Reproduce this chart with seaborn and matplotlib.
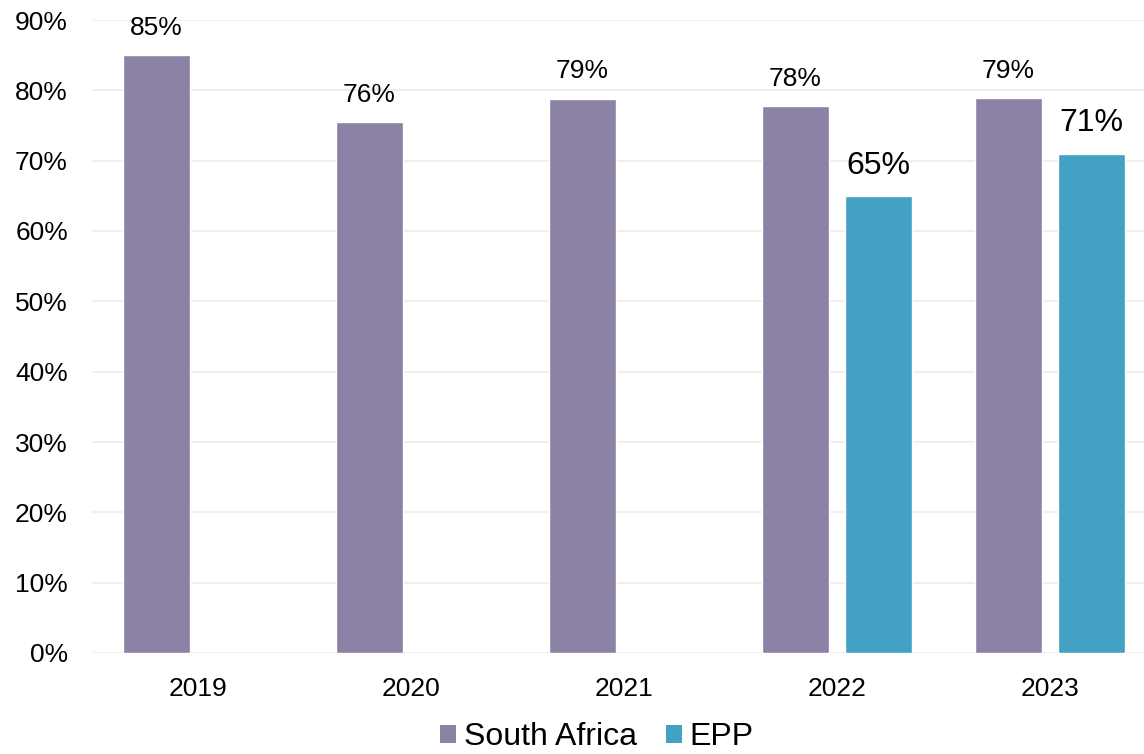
import numpy as np
import pandas as pd
import matplotlib
matplotlib.use("Agg")
import matplotlib.pyplot as plt
import seaborn as sns
from matplotlib.patches import Patch

# Data
years = ["2019", "2020", "2021", "2022", "2023"]
south_africa = [85.0, 75.5, 78.8, 77.8, 78.9]
epp = [np.nan, np.nan, np.nan, 65.0, 71.0]
series_names = ["South Africa", "EPP"]
y_ticks = [0, 10, 20, 30, 40, 50, 60, 70, 80, 90]

colors = {"South Africa": "#8B82A5", "EPP": "#43A1C3"}

df = pd.DataFrame({
    "year": years * 2,
    "series": [series_names[0]] * len(years) + [series_names[1]] * len(years),
    "value": south_africa + epp,
}).dropna()

sns.set_theme(style="white")
plt.rcParams["font.family"] = ["Liberation Sans", "DejaVu Sans"]
plt.rcParams["text.color"] = "black"
plt.rcParams["xtick.color"] = "black"
plt.rcParams["ytick.color"] = "black"

fig = plt.figure(figsize=(11.44, 7.54), dpi=100)
ax = fig.add_axes([91.5 / 1144, 1 - 653 / 754, 1065 / 1144, (653 - 20) / 754])

sns.barplot(
    data=df, x="year", y="value", hue="series", order=years,
    hue_order=series_names, palette=colors, width=0.78, gap=0.2,
    saturation=1, legend=False, ax=ax, zorder=3,
)

ax.set_xlim(-0.5, 4.5)
ax.set_ylim(0, 90)
ax.set_yticks(y_ticks)
ax.set_yticklabels([f"{t}%" for t in y_ticks], fontsize=19, color="black")
ax.tick_params(axis="x", labelsize=19, pad=17, length=0, labelcolor="black")
ax.tick_params(axis="y", pad=17, length=0, labelcolor="black")
ax.set_xlabel("")
ax.set_ylabel("")
ax.grid(axis="y", color="#F3EEE9", linewidth=1.5, zorder=0)
ax.set_axisbelow(True)
for s in ax.spines.values():
    s.set_visible(False)

# Value labels above bars
label_sizes = [19, 23]
for cont, fs in zip(ax.containers, label_sizes):
    ax.bar_label(cont, fmt="{:.0f}%", padding=11, fontsize=fs, color="black")

handles = [Patch(facecolor=colors[n], edgecolor="none") for n in series_names]
fig.legend(
    handles, series_names, loc="center", bbox_to_anchor=(597 / 1144, 1 - 737 / 754),
    ncol=2, frameon=False, fontsize=23, handlelength=0.5, handleheight=0.5,
    handletextpad=0.25, columnspacing=0.9,
)

fig.savefig("out.png", dpi=100)
